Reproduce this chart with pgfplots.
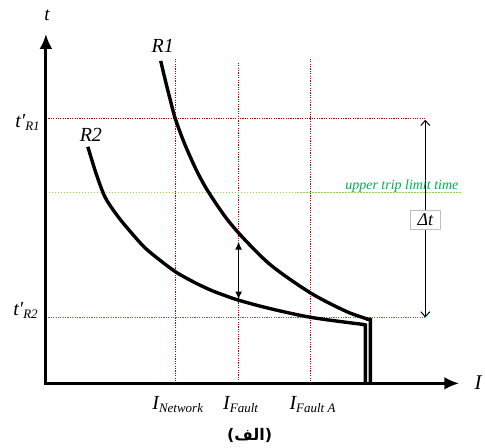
\documentclass[border=0pt]{standalone}
\usepackage{pgfplots}
\pgfplotsset{compat=1.18}
\usetikzlibrary{arrows.meta}
\usepackage{fontspec}
\setmainfont{Liberation Serif}
\newfontfamily\arabicfont[Script=Arabic]{DejaVu Sans}
\newfontfamily\dejavu{DejaVu Sans}
\TeXXeTstate=1
\definecolor{gridred}{HTML}{C00000}
\definecolor{limgreen}{HTML}{92D050}
\definecolor{txtgreen}{HTML}{00B050}
% label with lowered subscript, all italic
\newcommand{\sub}[3]{{\fontsize{#1}{#1}\selectfont\itshape #2\raisebox{-3pt}{\fontsize{13}{13}\selectfont #3}}}
\begin{document}
\begin{tikzpicture}
\begin{axis}[
  scale only axis, width=485pt, height=448pt,
  xmin=0, xmax=485, ymin=0, ymax=448, y dir=reverse,
  hide axis, clip=false,
]
\path (rel axis cs:0,0) rectangle (rel axis cs:1,1);
% guide lines (pixel coordinates, y down)
\addplot[gridred, line width=0.9pt, dash pattern=on 1.2pt off 1.2pt] coordinates {(46,119)(426,119)};
\addplot[gridred!75, line width=0.9pt, dash pattern=on 1.2pt off 1.2pt] coordinates {(46,318)(426,318)};
\addplot[gridred, line width=0.9pt, dash pattern=on 1.2pt off 1.2pt] coordinates {(176,59)(176,384)};
\addplot[gridred, line width=0.9pt, dash pattern=on 1.2pt off 1.2pt] coordinates {(239,63)(239,384)};
\addplot[gridred, line width=0.9pt, dash pattern=on 1.2pt off 1.2pt] coordinates {(311,59)(311,384)};
\addplot[limgreen, line width=1.6pt, dash pattern=on 1.5pt off 1.5pt] coordinates {(46,193)(462,193)};
% R1
\addplot[line width=3.4pt, smooth] coordinates {
(161,61)(165,78)(170,98)(175,117)(181,134)(187,149)(197,171)(208,191)(227,219)
(247,242)(273,267)(312,294)(347,312)(368,319.5)};
\addplot[line width=3.4pt] coordinates {(367,319.5)(371,320)(371,384)};
% R2
\addplot[line width=3.4pt, smooth] coordinates {
(88,147)(96,173)(105,197)(116,214)(128,229)(145,248)(162,262)(177,273)(195,283)
(212,291)(228,297)(240,301)(270,309)(312,318)(364,325)};
\addplot[line width=3.4pt] coordinates {(363,325)(366,325.5)(366,384)};
% arrows
\addplot[line width=1pt, {Straight Barb[length=5pt,width=9pt]}-{Straight Barb[length=5pt,width=9pt]}] coordinates {(426,120)(426,318)};
\addplot[line width=1.3pt, {Latex[length=8pt,width=7pt]}-{Latex[length=8pt,width=7pt]}] coordinates {(239,242)(239,300)};
% axes
\addplot[line width=3pt, {Latex[length=15pt,width=13pt]}-{Latex[length=15pt,width=13pt]}] coordinates {(46,34)(46,384)(460,384)};
% labels
\node[anchor=base, font=\fontsize{19}{19}\selectfont\itshape] at (47,21) {t};
\node[anchor=base, font=\fontsize{21}{21}\selectfont\itshape] at (479,390) {I};
\node[anchor=base, font=\fontsize{20}{20}\selectfont\itshape] at (163,53) {R1};
\node[anchor=base, font=\fontsize{20}{20}\selectfont\itshape] at (91,142) {R2};
\node[anchor=base east, inner sep=0pt] at (40,128) {\sub{20}{t′}{R1}};
\node[anchor=base east, inner sep=0pt] at (38,316) {\sub{20}{t′}{R2}};
\node[anchor=base, inner sep=0pt] at (178,410) {\sub{20}{I}{Network}};
\node[anchor=base, inner sep=0pt] at (241,410) {\sub{20}{I}{Fault}};
\node[anchor=base, inner sep=0pt] at (313,410) {\sub{20}{I}{Fault A}};
\node[anchor=base, inner sep=0pt, text=txtgreen, font=\fontsize{14}{14}\selectfont\itshape] at (402.5,190) {upper trip limit time};
\node[draw=gray!50, fill=white, inner sep=1pt, minimum width=30pt, minimum height=19pt, font=\fontsize{18}{18}\selectfont\itshape] at (426,220) {Δt};
\node[anchor=center, font=\fontsize{16}{16}\selectfont\bfseries] at (250,436) {{\dejavu(}{\arabicfont الف}{\dejavu)}};
\end{axis}
\end{tikzpicture}
\end{document}
